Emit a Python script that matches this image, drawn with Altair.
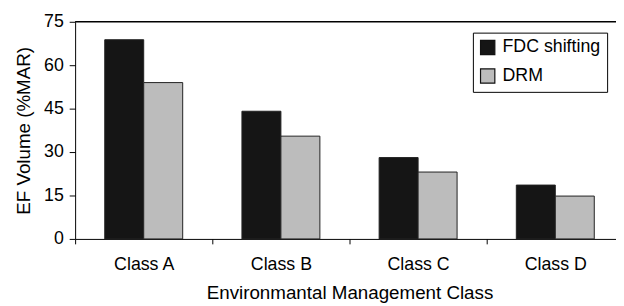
import altair as alt
import pandas as pd

classes = ["Class A", "Class B", "Class C", "Class D"]
fdc = [68.8, 44.1, 28.1, 18.6]
drm = [54.0, 35.5, 23.1, 14.8]
methods = ["FDC shifting", "DRM"]
y_ticks = [0, 15, 30, 45, 60, 75]

rows = []
for c, a, b in zip(classes, fdc, drm):
    rows.append({"cls": c, "method": methods[0], "value": a})
    rows.append({"cls": c, "method": methods[1], "value": b})
df = pd.DataFrame(rows)

FONT = "Liberation Sans"

x_enc = alt.X(
    "cls:N",
    sort=classes,
    scale=alt.Scale(paddingInner=0, paddingOuter=0, range=[0, 556]),
    axis=alt.Axis(
        title="Environmantal Management Class",
        labelAngle=0,
        tickBand="extent",
        tickSize=5,
        tickColor="black",
        domainColor="black",
        labelFontSize=18,
        labelPadding=12,
        titleFontSize=19,
        titlePadding=10,
        labelColor="black",
        titleColor="black",
        titleFontWeight="normal",
        labelFont=FONT,
        titleFont=FONT,
    ),
)

bars = alt.Chart(df).mark_bar(stroke="#222222", strokeWidth=1).encode(
    x=x_enc,
    xOffset=alt.XOffset("method:N", sort=methods, scale=alt.Scale(paddingOuter=0.76, paddingInner=0)),
    y=alt.Y(
        "value:Q",
        scale=alt.Scale(domain=[0, 75], nice=False),
        axis=alt.Axis(
            title="EF Volume (%MAR)",
            values=y_ticks,
            grid=False,
            tickSize=6,
            tickColor="black",
            domainColor="black",
            labelFontSize=18,
            labelPadding=6,
            titleFontSize=19,
            titlePadding=10,
            labelColor="black",
            titleColor="black",
            titleFontWeight="normal",
            labelFont=FONT,
            titleFont=FONT,
        ),
    ),
    color=alt.Color(
        "method:N",
        sort=methods,
        scale=alt.Scale(domain=methods, range=["#151515", "#bcbcbc"]),
        legend=alt.Legend(
            title=None,
            orient="none",
            legendX=403,
            legendY=11,
            symbolType="square",
            symbolSize=210,
            symbolStrokeColor="#111111",
            symbolStrokeWidth=1.2,
            labelFontSize=18,
            labelFont=FONT,
            labelColor="black",
            labelOffset=6,
            rowPadding=9,
            padding=6,
            strokeColor="black",
            fillColor="white",
        ),
    ),
)

top = alt.Chart(pd.DataFrame({"v": [75]})).mark_rule(color="black", strokeWidth=1.5).encode(
    y=alt.Y("v:Q", scale=alt.Scale(domain=[0, 75], nice=False)),
    x=alt.value(0),
    x2=alt.value(556),
)

chart = alt.layer(bars, top).properties(
    width=548,
    height=220,
    autosize=alt.AutoSizeParams(type="none"),
    padding={"left": 68, "top": 12, "right": 0, "bottom": 66},
).configure_view(stroke=None)

chart.save("out.html", embed_options={"renderer": "svg", "actions": False})
